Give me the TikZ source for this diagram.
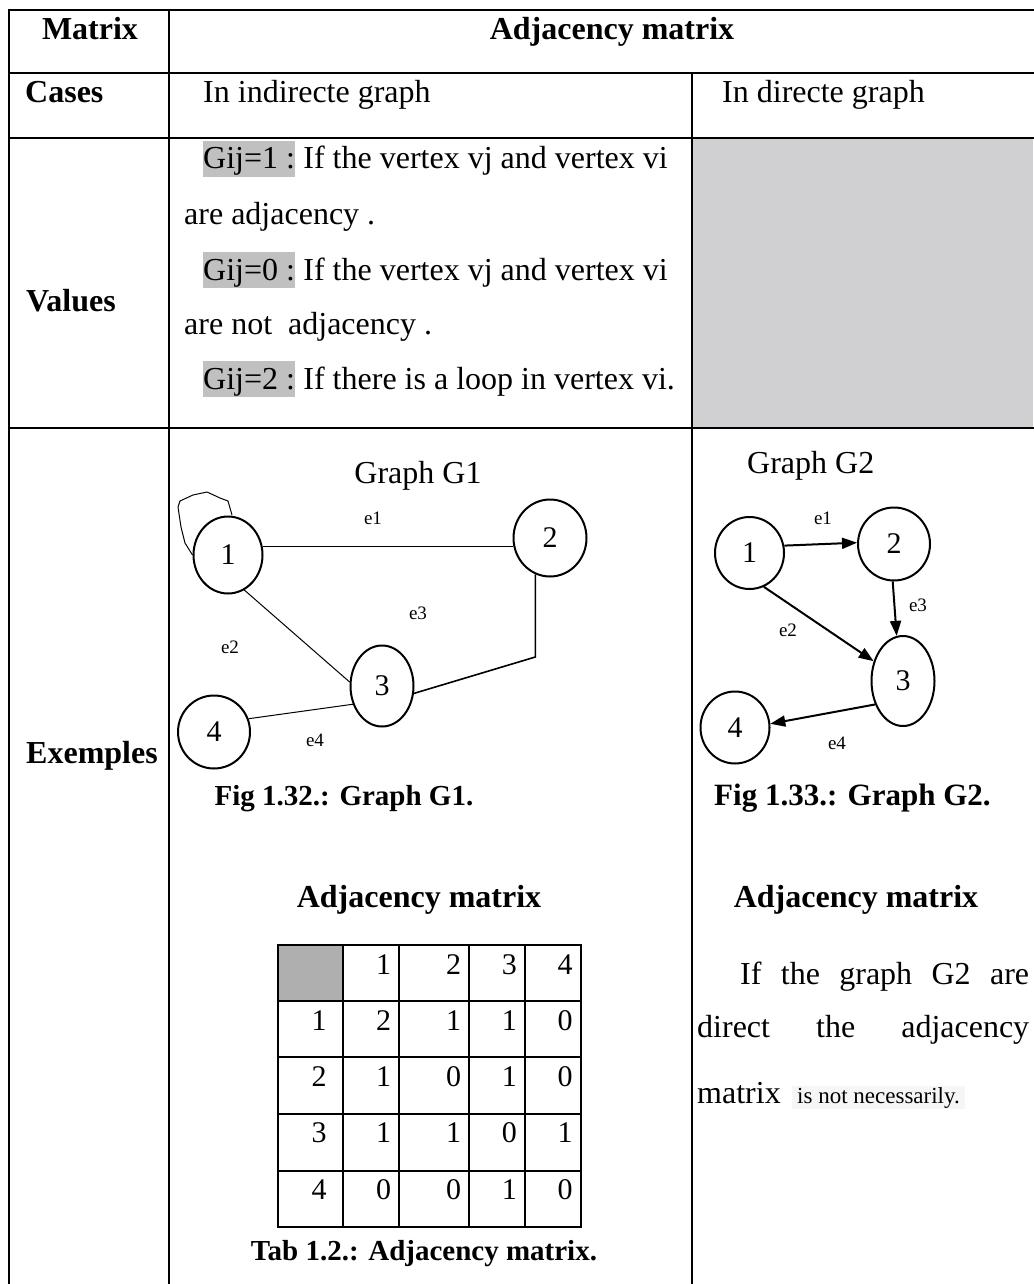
\documentclass[tikz,border=0pt]{standalone}
\usepackage{fontspec}
\setmainfont{Liberation Serif}
\usetikzlibrary{shapes.geometric,arrows.meta,calc}
\newcommand\myfs[1]{\fontsize{#1}{#1}\selectfont}
\definecolor{hl}{RGB}{192,192,192}
\definecolor{cellgray}{RGB}{208,207,209}
\definecolor{matgray}{RGB}{175,175,175}
\definecolor{faint}{RGB}{246,246,246}
\begin{document}
\begin{tikzpicture}[x=1pt,y=-1pt,
  grid/.style={line width=2pt,line cap=rect},
  txt/.style={anchor=base west,inner sep=0pt,font=\myfs{32}},
  txtc/.style={anchor=base,inner sep=0pt,font=\myfs{32}},
  hdc/.style={anchor=base,inner sep=0pt,font=\myfs{32}\bfseries},
  hdw/.style={anchor=base west,inner sep=0pt,font=\myfs{32}\bfseries},
  hlb/.style={anchor=base west,fill=hl,inner xsep=0pt,inner ysep=0pt,text height=28pt,text depth=8pt,font=\myfs{32}},
  vtx/.style={ellipse,draw,line width=2pt,inner sep=0pt,font=\myfs{30}},
  elab/.style={anchor=base,inner sep=0pt,font=\myfs{19}},
  arr/.style={line width=2pt,-{Triangle[length=15pt,width=11pt]}},
  mnum/.style={anchor=base east,inner sep=0pt,font=\myfs{30}}
]
\useasboundingbox (0,0) rectangle (1033,1284);
% grey cell of Values row
\fill[cellgray] (693,139) rectangle (1033,427);
% outer table grid
\draw[grid] (8.5,10.5) -- (1034,10.5);
\draw[grid] (8.5,73) -- (1034,73);
\draw[grid] (8.5,138) -- (1034,138);
\draw[grid] (8.5,428) -- (1034,428);
\draw[grid] (8.5,10.5) -- (8.5,1290);
\draw[grid] (169,10.5) -- (169,1290);
\draw[grid] (692,73) -- (692,1290);

% header rows
\node[hdc] (hMatrix) at (90,40) {Matrix};
\node[hdc] (hAdj) at (612,40) {Adjacency matrix};
\node[hdw] (hCases) at (25,103) {Cases};
\node[txt] (cInd) at (203,103) {In indirecte graph};
\node[txt] (cDir) at (722,103) {In directe graph};
\node[hdw] (hValues) at (26,311) {Values};
\node[hdw] (hEx) at (26,763) {Exemples};

% values text
\node[hlb] (g1) at (203,169) {Gij=1 :};
\node[txt] (g1t) at (g1.base east) {\ If the vertex vj and vertex vi};
\node[txt] (l2) at (184,224) {are adjacency .};
\node[hlb] (g0) at (203,280) {Gij=0 :};
\node[txt] (g0t) at (g0.base east) {\ If the vertex vj and vertex vi};
\node[txt] (l4) at (184,334) {are not\ \ adjacency .};
\node[hlb] (g2) at (203,389) {Gij=2 :};
\node[txt] (g2t) at (g2.base east) {\ If there is a loop in vertex vi.};

% ---------- Graph G1 ----------
\node[txtc] (tG1) at (418,483) {Graph G1};
\node[vtx,minimum width=69pt,minimum height=77pt] (a1) at (228,555) {1};
\node[vtx,minimum width=73pt,minimum height=77pt] (a2) at (550,538) {2};
\node[vtx,minimum width=63pt,minimum height=81pt] (a3) at (382,686) {3};
\node[vtx,minimum width=72pt,minimum height=73pt] (a4) at (214,732) {4};
\draw[line width=1pt] (a1.13) -- (a1.13 -| a2.west);
\draw[line width=1pt] (a1.-65) -- (a3.173);
\coordinate (e3c) at (537,657);
\draw[line width=1.6pt] (a2.-112) -- (a2.-112 |- e3c) -- (a3.-13);
\draw[line width=1pt] (a4.21) -- (a3.212);
\draw[line width=1pt,line join=round] (a1.west) -- ($(a1)+(-43,-12)$) -- ($(a1)+(-47,-28)$)
  -- ($(a1)+(-50,-48)$) -- ($(a1)+(-48,-54)$) -- ($(a1)+(-35,-60)$) -- ($(a1)+(-21,-63)$)
  -- ($(a1)+(-8,-57)$) -- ($(a1)+(0,-54)$) -- ($(a1)+(4,-40)$);
\node[elab] (le1) at (373,524) {e1};
\node[elab] (le2) at (230,653) {e2};
\node[elab] (le3) at (418,619) {e3};
\node[elab] (le4) at (315,746) {e4};
\node[hdc,font=\myfs{29}\bfseries] (cap1) at (344,805) {Fig 1.32.: Graph G1.};

% ---------- Graph G2 ----------
\node[txt] (tG2) at (747,473) {Graph G2};
\node[vtx,minimum width=69pt,minimum height=72pt] (b1) at (749.5,553) {1};
\node[vtx,minimum width=72pt,minimum height=73pt] (b2) at (894,544) {2};
\node[vtx,minimum width=63pt,minimum height=90pt] (b3) at (903,681) {3};
\node[vtx,minimum width=69pt,minimum height=72pt] (b4) at (735,727.5) {4};
\draw[arr] (b1.12) -- (b2.178);
\draw[arr] (b1.-67) -- (b3.146);
\draw[arr] (b2.-92) -- (b3.98);
\draw[arr] (b3.220) -- (b4.6);
\node[elab] (f1) at (823,524) {e1};
\node[elab] (f2) at (788,636) {e2};
\node[elab] (f3) at (918,611) {e3};
\node[elab] (f4) at (837,749) {e4};
\node[hdw,font=\myfs{31}\bfseries] (cap2) at (714,805) {Fig 1.33.: Graph G2.};

% ---------- adjacency matrix (left) ----------
\node[hdc] (mTitle) at (419,907) {Adjacency matrix};
\fill[matgray] (277.7,945.3) rectangle (342.7,1001.3);
\foreach \x in {277.7,342.7,399.3,469.3,525,580.7}
  \draw[grid] (\x,945.3) -- (\x,1226.7);
\foreach \y in {945.3,1001.3,1057.3,1114,1170.7,1226.7}
  \draw[grid] (277.7,\y) -- (580.7,\y);
% column headers
\foreach \c/\xr [count=\i] in {1/391.3,2/461.3,3/517,4/572.7}
  \node[mnum] (mh-\i) at (\xr,974) {\c};
% rows
\foreach \r/\yb [count=\j] in {1/1030,2/1086,3/1142.7,4/1199.4}
  \node[mnum] (mr-\j) at (326.7,\yb) {\r};
\foreach \j/\yb/\va/\vb/\vc/\vd in {1/1030/2/1/1/0, 2/1086/1/0/1/0, 3/1142.7/1/1/0/1, 4/1199.4/0/0/1/0}{
  \node[mnum] (m-\j-1) at (391.3,\yb) {\va};
  \node[mnum] (m-\j-2) at (461.3,\yb) {\vb};
  \node[mnum] (m-\j-3) at (517,\yb) {\vc};
  \node[mnum] (m-\j-4) at (572.7,\yb) {\vd};
}
\node[hdc,font=\myfs{29}\bfseries] (tab) at (424,1260) {Tab 1.2.: Adjacency matrix.};

% ---------- right column text ----------
\node[hdc] (mTitle2) at (856,907) {Adjacency matrix};
\node[txt] (r1) at (740,984) {\makebox[289pt][s]{If the graph G2 are}};
\node[txt] (r2) at (697,1037) {\makebox[332pt][s]{direct the adjacency}};
\node[txt] (r3) at (697,1103) {matrix};
\node[anchor=base west,fill=faint,inner xsep=5pt,inner ysep=0pt,text height=17pt,text depth=6pt,font=\myfs{23}] (r3b) at (792,1103) {is not necessarily.};
\end{tikzpicture}
\end{document}
